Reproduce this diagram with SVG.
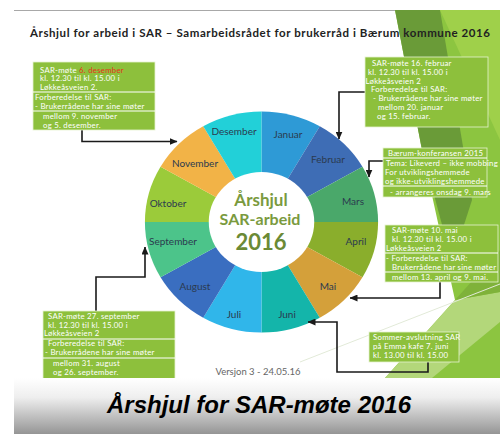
<svg xmlns="http://www.w3.org/2000/svg" width="500" height="434" viewBox="0 0 500 434">
<defs>
<style>
.t{font-family:"Lato","Open Sans",sans-serif}
.bx{fill:#8dc03c;stroke:#e6f2d0;stroke-width:0.8}
.bt{font-family:"Lato","Open Sans",sans-serif;font-size:7.8px;letter-spacing:0.25px;fill:#ffffff}
.dv{stroke:#ffffff;stroke-width:1}
.ml{font-family:"Lato","Open Sans",sans-serif;font-size:10px;fill:#2b3a4f;text-anchor:middle}
.c{fill:none;stroke:#1a1a1a;stroke-width:1.6}
</style>
<marker id="ah" markerWidth="8" markerHeight="7" refX="7.5" refY="3.5" orient="auto" markerUnits="userSpaceOnUse">
<path d="M0,0 L8,3.5 L0,7 z" fill="#1a1a1a"/>
</marker>
<linearGradient id="cap" x1="0" y1="0" x2="0" y2="1">
<stop offset="0" stop-color="#ffffff"/>
<stop offset="0.35" stop-color="#eeeeee"/>
<stop offset="1" stop-color="#959595"/>
</linearGradient>
</defs>
<rect width="500" height="434" fill="#ffffff"/>
<g id="bg">
<polygon points="395,10 500,10 500,378 385,378 455,300 422,150" fill="#8cc540"/>
<polygon points="395,10 440,10 472,200 452,262 422,150" fill="#6a9b38"/>
<polygon points="440,10 500,10 500,140" fill="#9fd04a"/>
<polygon points="385,378 455,300 500,292 500,322 432,378" fill="#b3d77a"/>
<polygon points="455,300 500,250 500,292" fill="#7fb23a"/>
<line x1="300" y1="362" x2="500" y2="284" stroke="#e2ead8" stroke-width="1"/>
<line x1="14" y1="10.5" x2="395" y2="10.5" stroke="#a8a8a8" stroke-width="1"/>
</g>
<text class="t" x="30" y="37" font-size="11.5" font-weight="bold" fill="#222222" textLength="460" lengthAdjust="spacing">Årshjul for arbeid i SAR – Samarbeidsrådet for brukerråd i Bærum kommune 2016</text>

<g id="wheel">
<g transform="translate(261.5,222) scale(1.055,1)">
<path d="M0,0 L0,-110.5 A110.5,110.5 0 0 1 55.25,-95.7 Z" fill="#2e9ad6"/>
<path d="M0,0 L55.25,-95.7 A110.5,110.5 0 0 1 95.7,-55.25 Z" fill="#3e6db5"/>
<path d="M0,0 L95.7,-55.25 A110.5,110.5 0 0 1 110.5,0 Z" fill="#4aa86a"/>
<path d="M0,0 L110.5,0 A110.5,110.5 0 0 1 95.7,55.25 Z" fill="#8aae2c"/>
<path d="M0,0 L95.7,55.25 A110.5,110.5 0 0 1 55.25,95.7 Z" fill="#d4a03a"/>
<path d="M0,0 L55.25,95.7 A110.5,110.5 0 0 1 0,110.5 Z" fill="#14b5aa"/>
<path d="M0,0 L0,110.5 A110.5,110.5 0 0 1 -55.25,95.7 Z" fill="#30b6ea"/>
<path d="M0,0 L-55.25,95.7 A110.5,110.5 0 0 1 -95.7,55.25 Z" fill="#3a6ec0"/>
<path d="M0,0 L-95.7,55.25 A110.5,110.5 0 0 1 -110.5,0 Z" fill="#4cc48a"/>
<path d="M0,0 L-110.5,0 A110.5,110.5 0 0 1 -95.7,-55.25 Z" fill="#9bcb3a"/>
<path d="M0,0 L-95.7,-55.25 A110.5,110.5 0 0 1 -55.25,-95.7 Z" fill="#f2b347"/>
<path d="M0,0 L-55.25,-95.7 A110.5,110.5 0 0 1 0,-110.5 Z" fill="#22d0d8"/>
<circle cx="0" cy="0" r="50" fill="#ffffff"/>
</g>
<text class="ml" x="288" y="137.5">Januar</text>
<text class="ml" x="328" y="162.5">Februar</text>
<text class="ml" x="353" y="204.5">Mars</text>
<text class="ml" x="356" y="244.5">April</text>
<text class="ml" x="328" y="289.5">Mai</text>
<text class="ml" x="287" y="317.5">Juni</text>
<text class="ml" x="234" y="317.5">Juli</text>
<text class="ml" x="195" y="289.5">August</text>
<text class="ml" x="173" y="244.5">September</text>
<text class="ml" x="168" y="206.5">Oktober</text>
<text class="ml" x="195" y="166.5">November</text>
<text class="ml" x="234" y="134.5">Desember</text>
<text class="t" x="261" y="206" font-size="17" font-weight="bold" fill="#7a9a3e" text-anchor="middle">Årshjul</text>
<text class="t" x="260" y="225" font-size="16" font-weight="bold" fill="#7a9a3e" text-anchor="middle">SAR-arbeid</text>
<text class="t" x="261" y="250" font-size="22" font-weight="bold" fill="#6b8a35" text-anchor="middle">2016</text>
</g>

<g id="connectors">
<path class="c" d="M82,130 V141.5 H177" marker-end="url(#ah)"/>
<path class="c" d="M365,92 H339 V139" marker-end="url(#ah)"/>
<path class="c" d="M383,161 H369 V177" marker-end="url(#ah)"/>
<path class="c" d="M440,282 V298 H350" marker-end="url(#ah)"/>
<path class="c" d="M428,362 V372 H337 V322 H308" marker-end="url(#ah)"/>
<path class="c" d="M96,311 V277 H145 V247" marker-end="url(#ah)"/>
</g>

<g id="box-desember">
<rect class="bx" x="33" y="62" width="122" height="68"/>
<line class="dv" x1="33" y1="92" x2="155" y2="92"/>
<line class="dv" x1="33" y1="111" x2="155" y2="111"/>
<text class="bt" x="40" y="72.5">SAR-møte <tspan fill="#e8331c">6. desember</tspan></text>
<text class="bt" x="40" y="81">kl. 12.30 til kl. 15.00 i</text>
<text class="bt" x="40" y="89.5">Løkkeåsveien 2.</text>
<text class="bt" x="35" y="99.5">Forberedelse til SAR:</text>
<text class="bt" x="35" y="108.5">- Brukerrådene har sine møter</text>
<text class="bt" x="43" y="118.5">mellom 9. november</text>
<text class="bt" x="43" y="127.5">og 5. desember.</text>
</g>

<g id="box-februar">
<rect class="bx" x="365" y="57" width="123" height="70"/>
<text class="bt" x="372" y="65.5">SAR-møte 16. februar</text>
<text class="bt" x="368" y="74.5">kl. 12.30 til kl. 15.00 i</text>
<text class="bt" x="365.5" y="83.5">Løkkeåsveien 2</text>
<text class="bt" x="371" y="92">Forberedelse til SAR:</text>
<text class="bt" x="373" y="101">- Brukerrådene har sine møter</text>
<text class="bt" x="378" y="110">mellom 20. januar</text>
<text class="bt" x="377" y="119">og 15. februar.</text>
</g>

<g id="box-konferanse">
<rect class="bx" x="383" y="148" width="104" height="49"/>
<line class="dv" x1="383" y1="158" x2="487" y2="158"/>
<line class="dv" x1="383" y1="186" x2="487" y2="186"/>
<text class="bt" x="388" y="155.5" font-size="7.3" letter-spacing="0">Bærum-konferansen 2015</text>
<text class="bt" x="386" y="165.5" font-size="7.3" letter-spacing="0">Tema: Likeverd – ikke mobbing</text>
<text class="bt" x="385" y="174.5" font-size="7.3" letter-spacing="0">For utviklingshemmede</text>
<text class="bt" x="385" y="183.5" font-size="7.3" letter-spacing="0">og ikke-utviklingshemmede</text>
<text class="bt" x="390" y="194.5" font-size="7.3" letter-spacing="0">- arrangeres onsdag 9. mars</text>
</g>

<g id="box-mai">
<rect class="bx" x="385" y="225" width="113" height="57"/>
<line class="dv" x1="385" y1="253" x2="498" y2="253"/>
<line class="dv" x1="385" y1="272" x2="498" y2="272"/>
<text class="bt" x="392" y="232.5">SAR-møte 10. mai</text>
<text class="bt" x="392" y="241.5">kl. 12.30 til kl. 15.00 i</text>
<text class="bt" x="386" y="250.5">Løkkeåsveien 2</text>
<text class="bt" x="386" y="260.5">-  Forberedelse til SAR:</text>
<text class="bt" x="392" y="269.5">Brukerrådene har sine møter</text>
<text class="bt" x="392" y="279.5">mellom 13. april og 9. mai.</text>
</g>

<g id="box-juni">
<rect class="bx" x="369" y="332" width="90" height="30"/>
<text class="bt" x="373" y="340" font-size="7.3" letter-spacing="0.4">Sommer-avslutning SAR</text>
<text class="bt" x="373" y="349" font-size="7.3" letter-spacing="0.4">på Emma kafe 7. juni</text>
<text class="bt" x="373" y="358" font-size="7.3" letter-spacing="0.4">kl. 13.00 til kl. 15.00</text>
</g>

<g id="box-september">
<rect class="bx" x="43" y="311" width="132" height="68"/>
<line class="dv" x1="43" y1="339" x2="175" y2="339"/>
<line class="dv" x1="43" y1="358" x2="175" y2="358"/>
<text class="bt" x="48" y="318.5">SAR-møte 27. september</text>
<text class="bt" x="48" y="327.5">kl. 12.30 til kl. 15.00 i</text>
<text class="bt" x="44" y="336">Løkkeåsveien 2</text>
<text class="bt" x="48" y="346">Forberedelse til SAR:</text>
<text class="bt" x="45" y="355">- Brukerrådene har sine møter</text>
<text class="bt" x="53" y="366">mellom 31. august</text>
<text class="bt" x="53" y="375">og 26. september.</text>
</g>

<text class="t" x="258" y="375" font-size="9.5" fill="#666666" text-anchor="middle">Versjon 3 - 24.05.16</text>

<rect x="14" y="378" width="486" height="56" fill="url(#cap)"/>
<text x="259" y="413" font-family="'Liberation Sans',Arial,sans-serif" font-size="24" font-weight="bold" font-style="italic" fill="#000000" text-anchor="middle">Årshjul for SAR-møte 2016</text>
</svg>
